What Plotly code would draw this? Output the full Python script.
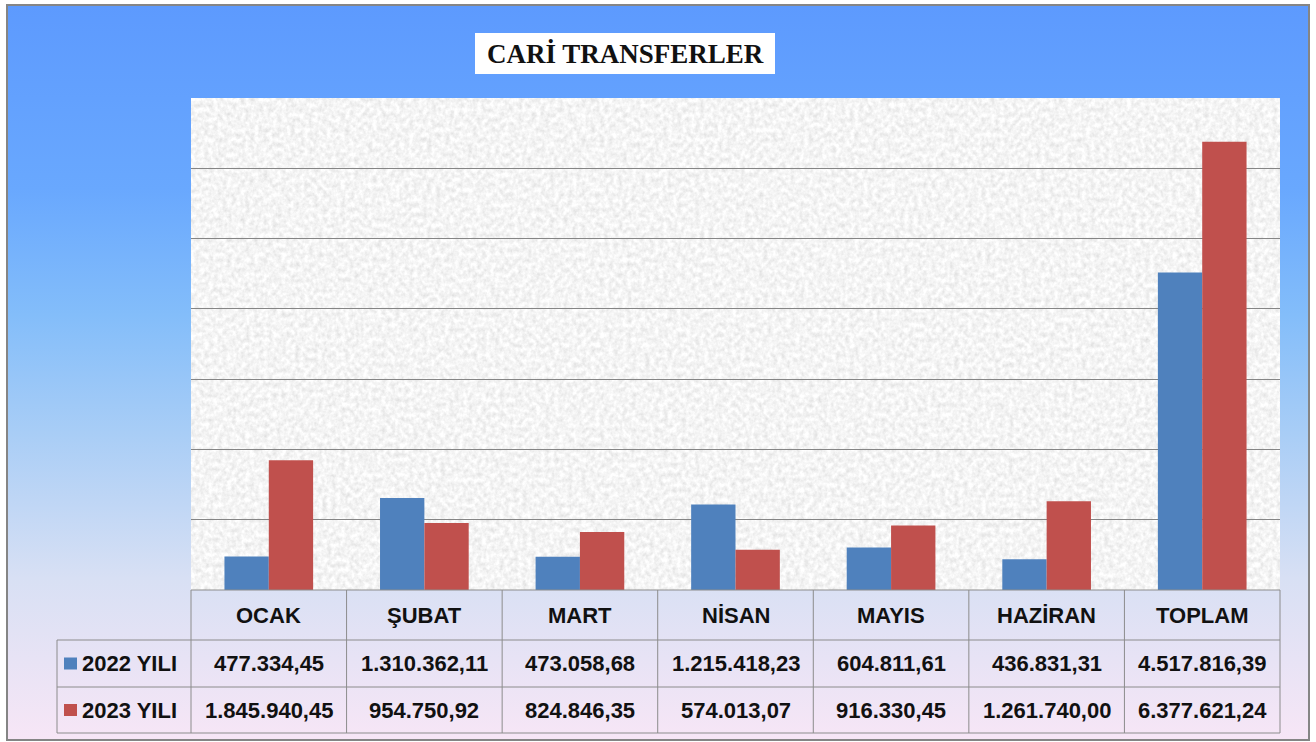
import base64
import plotly.graph_objects as go

categories = ["OCAK", "ŞUBAT", "MART", "NİSAN", "MAYIS", "HAZİRAN", "TOPLAM"]
series_names = ["2022 YILI", "2023 YILI"]
values_2022 = [477334.45, 1310362.11, 473058.68, 1215418.23, 604811.61, 436831.31, 4517816.39]
values_2023 = [1845940.45, 954750.92, 824846.35, 574013.07, 916330.45, 1261740.00, 6377621.24]
colors = ["#4F81BD", "#C0504D"]
title_text = "CARİ TRANSFERLER"

W, H = 1316, 742
PX0, PX1, PY0, PY1 = 191, 1280, 98, 590  # plot area in pixels


def fx(px):
    return (px - PX0) / (PX1 - PX0)


def fy(py):
    return (PY1 - py) / (PY1 - PY0)


def tr_fmt(v):
    s = f"{v:,.2f}"
    return s.replace(",", "X").replace(".", ",").replace("X", ".")


def svg_uri(svg):
    return "data:image/svg+xml;base64," + base64.b64encode(svg.encode("utf-8")).decode()


grad_w, grad_h = 1300, 734
grad_svg = f"""<svg xmlns='http://www.w3.org/2000/svg' width='{grad_w}' height='{grad_h}' viewBox='0 0 {grad_w} {grad_h}' preserveAspectRatio='none'>
<defs><linearGradient id='g' x1='0' y1='0' x2='0' y2='1'>
<stop offset='0' stop-color='#5D9AFE'/>
<stop offset='0.25' stop-color='#69A8FE'/>
<stop offset='0.42' stop-color='#83BDFA'/>
<stop offset='0.58' stop-color='#A8CDF6'/>
<stop offset='0.78' stop-color='#D8E0F4'/>
<stop offset='1' stop-color='#F7E6F6'/>
</linearGradient></defs>
<rect width='{grad_w}' height='{grad_h}' fill='url(#g)'/>
</svg>"""

tex_w, tex_h = PX1 - PX0, PY1 - PY0
tex_svg = f"""<svg xmlns='http://www.w3.org/2000/svg' width='{tex_w}' height='{tex_h}' viewBox='0 0 {tex_w} {tex_h}' preserveAspectRatio='none'>
<filter id='n' x='0' y='0' width='100%' height='100%'>
<feTurbulence type='fractalNoise' baseFrequency='0.22 0.2' numOctaves='3' seed='5'/>
<feColorMatrix type='matrix' values='0.40 0 0 0 0.71  0.40 0 0 0 0.71  0.40 0 0 0 0.71  0 0 0 0 1'/>
</filter>
<rect width='{tex_w}' height='{tex_h}' fill='#EEEEEE'/>
<rect width='{tex_w}' height='{tex_h}' filter='url(#n)'/>
</svg>"""

fig = go.Figure()
for name, vals, col in zip(series_names, [values_2022, values_2023], colors):
    fig.add_trace(go.Bar(x=categories, y=vals, name=name, marker=dict(color=col, line=dict(width=0)),
                         hoverinfo="x+y+name"))

images = [
    dict(source=svg_uri(grad_svg), xref="paper", yref="paper", x=fx(8), y=fy(6),
         sizex=(1308 - 8) / (PX1 - PX0), sizey=(740 - 6) / (PY1 - PY0),
         sizing="stretch", layer="below", xanchor="left", yanchor="top"),
    dict(source=svg_uri(tex_svg), xref="paper", yref="paper", x=0, y=1, sizex=1, sizey=1,
         sizing="stretch", layer="below", xanchor="left", yanchor="top"),
]

shapes = []
line_col = "#8C8C8C"
shapes.append(dict(type="rect", xref="paper", yref="paper", x0=fx(7), x1=fx(1309), y0=fy(5), y1=fy(740),
                   line=dict(color="#858585", width=2), fillcolor="rgba(0,0,0,0)", layer="above"))
shapes.append(dict(type="rect", xref="paper", yref="paper", x0=fx(475), x1=fx(775), y0=fy(33), y1=fy(74),
                   line=dict(width=0), fillcolor="white", layer="above"))

row_y = [590, 640, 687, 733]
n = len(categories)
shapes.append(dict(type="line", xref="paper", yref="paper", x0=0, x1=1, y0=fy(row_y[0]), y1=fy(row_y[0]),
                   line=dict(color=line_col, width=1)))
for ry in row_y[1:]:
    shapes.append(dict(type="line", xref="paper", yref="paper", x0=fx(57), x1=1, y0=fy(ry), y1=fy(ry),
                       line=dict(color=line_col, width=1)))
for i in range(n + 1):
    shapes.append(dict(type="line", xref="paper", yref="paper", x0=i / n, x1=i / n,
                       y0=fy(row_y[0]), y1=fy(row_y[3]), line=dict(color=line_col, width=1)))
shapes.append(dict(type="line", xref="paper", yref="paper", x0=fx(57), x1=fx(57),
                   y0=fy(row_y[1]), y1=fy(row_y[3]), line=dict(color=line_col, width=1)))

annotations = []
tfont = dict(family="Liberation Sans, Arial, sans-serif", size=22, color="#111111")
for i, c in enumerate(categories):
    annotations.append(dict(text=f"<b>{c}</b>", xref="paper", yref="paper", x=(i + 0.5) / n,
                            y=fy((row_y[0] + row_y[1]) / 2), showarrow=False, font=tfont,
                            xanchor="center", yanchor="middle"))
for r, (name, vals, col) in enumerate(zip(series_names, [values_2022, values_2023], colors)):
    yc = (row_y[r + 1] + row_y[r + 2]) / 2
    for i, v in enumerate(vals):
        annotations.append(dict(text=f"<b>{tr_fmt(v)}</b>", xref="paper", yref="paper", x=(i + 0.5) / n,
                                y=fy(yc), showarrow=False, font=tfont, xanchor="center", yanchor="middle"))
    shapes.append(dict(type="rect", xref="paper", yref="paper", x0=fx(64), x1=fx(77),
                       y0=fy(yc - 6), y1=fy(yc + 6), line=dict(width=0), fillcolor=col))
    annotations.append(dict(text=f"<b>{name}</b>", xref="paper", yref="paper", x=fx(80),
                            y=fy(yc), showarrow=False, font=tfont, xanchor="left", yanchor="middle"))

annotations.append(dict(text=f"<b>{title_text}</b>", xref="paper", yref="paper", x=fx(625), y=fy(54),
                        showarrow=False, xanchor="center", yanchor="middle",
                        font=dict(family="Liberation Serif, Times New Roman, serif", size=27, color="#111111")))

fig.update_layout(
    width=W, height=H,
    margin=dict(l=PX0, r=W - PX1, t=PY0, b=H - PY1, pad=0),
    paper_bgcolor="white",
    plot_bgcolor="rgba(0,0,0,0)",
    barmode="group", bargap=0.43, bargroupgap=0,
    showlegend=False,
    xaxis=dict(showticklabels=False, ticks="", showgrid=False, zeroline=False, showline=False,
               fixedrange=True),
    yaxis=dict(range=[0, 7000000], dtick=1000000, showticklabels=False, ticks="", showgrid=True,
               gridcolor="#858585", gridwidth=1.3, zeroline=False, showline=False, fixedrange=True),
    images=images,
    shapes=shapes,
    annotations=annotations,
)

fig.write_html("out.html", config={"displayModeBar": False},
               post_script="document.body.style.margin='0';document.body.style.overflow='hidden';")
